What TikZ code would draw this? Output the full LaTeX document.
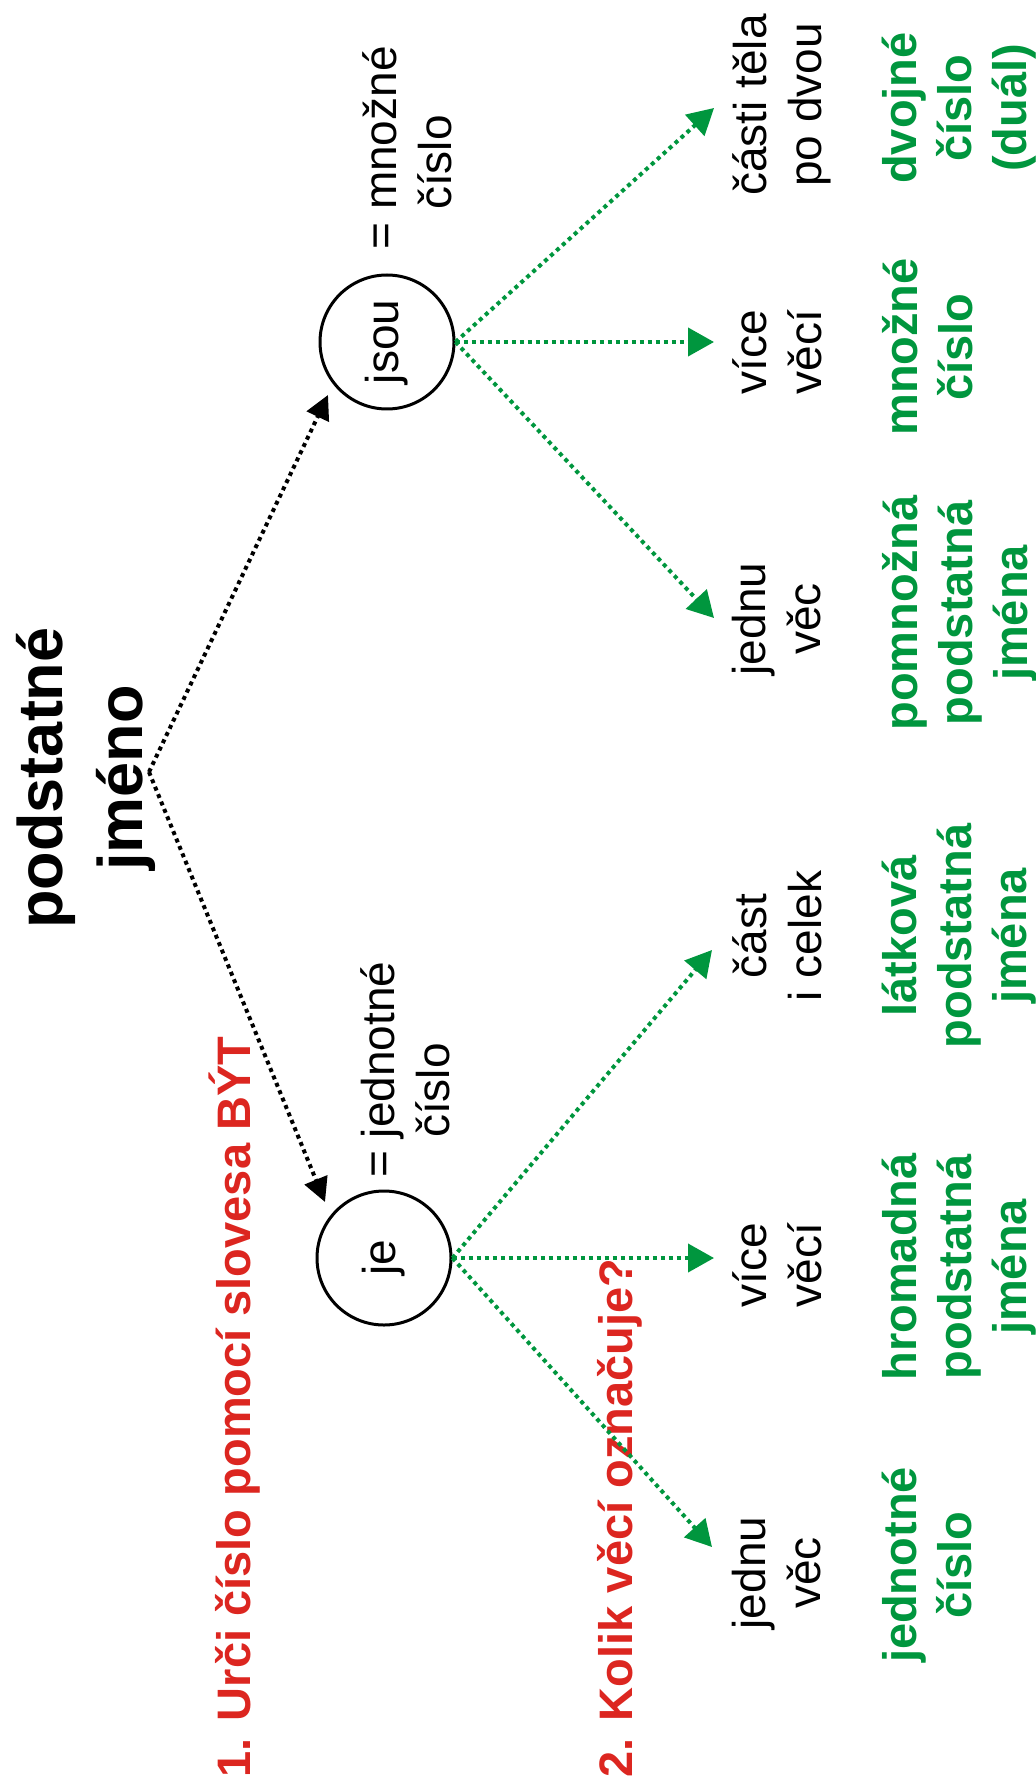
\documentclass[tikz,border=0pt]{standalone}
\usepackage{fontspec}
\setmainfont{Liberation Sans}
\usetikzlibrary{arrows.meta}
\definecolor{redtxt}{RGB}{220,38,32}
\definecolor{greentxt}{RGB}{0,150,62}
\begin{document}
\begin{tikzpicture}[x=0.5pt,y=-0.5pt,
  lbl/.style={rotate=90, inner sep=0pt, font=\fontsize{23}{27.5}\selectfont, align=center, anchor=north},
  glbl/.style={rotate=90, inner sep=0pt, font=\fontsize{23.5}{27.5}\selectfont\bfseries, text=greentxt, align=center, anchor=north},
  redl/.style={rotate=90, inner sep=0pt, font=\fontsize{23.5}{28}\selectfont\bfseries, text=redtxt, anchor=base west},
  verb/.style={circle, draw, line width=1.5pt, minimum size=67pt, inner sep=0pt, rotate=90, font=\fontsize{23}{27.5}\selectfont},
  eqlbl/.style={rotate=90, inner sep=0pt, font=\fontsize{23}{27.5}\selectfont, align=left, anchor=north west},
  garrow/.style={draw=greentxt, line width=2pt, dash pattern=on 2pt off 2pt, -{Triangle[length=13pt,width=14pt]}},
  barrow/.style={draw=black, line width=2pt, dash pattern=on 2pt off 2pt, -{Triangle[length=12pt,width=12pt]}}
]
\useasboundingbox (0,0) rectangle (1036,1786);
% title
\node[rotate=90, anchor=north, inner sep=0pt, align=center, font=\fontsize{31.5}{40}\selectfont\bfseries] (title) at (16,778) {podstatné\\jméno};
% red instructions
\node[redl] (r1) at (250,1778) {1. Urči číslo pomocí slovesa BÝT};
\node[redl] (r2) at (632,1778) {2. Kolik věcí označuje?};
% verb circles
\node[verb] (je) at (384,1258) {je};
\node[verb] (jsou) at (387,342) {jsou};
\node[eqlbl] (eqje) at (360,1178) {= jednotné\\\phantom{= }číslo};
\node[eqlbl] (eqjsou) at (362,250) {= množné\\\phantom{= }číslo};
% black labels
\node[lbl] (l6) at (732,105) {části těla\\po dvou};
\node[lbl] (l5) at (732,352) {více\\věcí};
\node[lbl] (l4) at (732,619) {jednu\\věc};
\node[lbl] (l3) at (732,936) {část\\i celek};
\node[lbl] (l2) at (732,1265) {více\\věcí};
\node[lbl] (l1) at (732,1573) {jednu\\věc};
% green labels
\node[glbl] (g6) at (882,108) {dvojné\\číslo\\(duál)};
\node[glbl] (g5) at (882,347) {množné\\číslo};
\node[glbl] (g4) at (882,613) {pomnožná\\podstatná\\jména};
\node[glbl] (g3) at (882,936) {látková\\podstatná\\jména};
\node[glbl] (g2) at (882,1267) {hromadná\\podstatná\\jména};
\node[glbl] (g1) at (882,1565) {jednotné\\číslo};
% connector ends
\coordinate (apex) at (149,772);
\coordinate (tje) at (325,1202);
\coordinate (tjsou) at (328,395);
\coordinate (t1) at (712,1547);
\coordinate (t2) at (714,1258);
\coordinate (t3) at (712,950);
\coordinate (t4) at (714,618);
\coordinate (t5) at (714,342);
\coordinate (t6) at (714,108);
% connectors
\draw[barrow] (apex) -- (tje);
\draw[barrow] (apex) -- (tjsou);
\draw[garrow] (je.south) -- (t1);
\draw[garrow] (je.south) -- (t2);
\draw[garrow] (je.south) -- (t3);
\draw[garrow] (jsou.south) -- (t4);
\draw[garrow] (jsou.south) -- (t5);
\draw[garrow] (jsou.south) -- (t6);
\end{tikzpicture}
\end{document}
